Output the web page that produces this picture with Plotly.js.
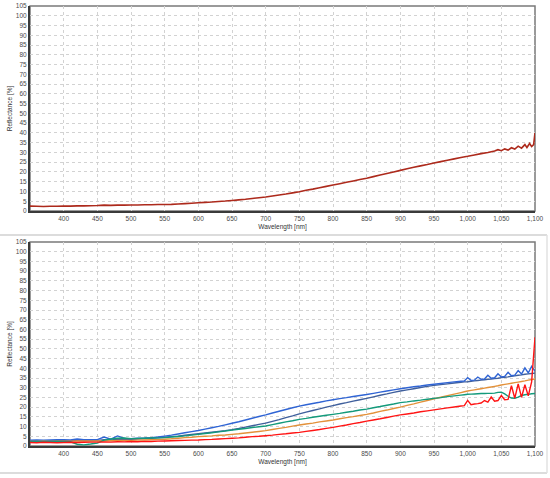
<!DOCTYPE html>
<html>
<head>
<meta charset="utf-8">
<script src="https://cdn.plot.ly/plotly-3.0.1.min.js"></script>
<style>html,body{margin:0;padding:0;background:#fff;}#chart{width:550px;height:478px;}</style>
</head>
<body>
<div id="chart"></div>
<script>
// ---------- DATA ----------
const wlTop = [350,360,370,380,390,400,410,420,430,440,450,460,470,480,490,500,510,520,530,540,550,560,570,580,590,600,610,620,630,640,650,660,670,680,690,700,710,720,730,740,750,760,770,780,790,800,810,820,830,840,850,860,870,880,890,900,910,920,930,940,950,960,970,980,990,1000,1010,1020,1030,1040,1045,1050,1055,1060,1065,1070,1075,1080,1085,1088,1092,1095,1098,1100];
const reflTop = [2.5,2.4,2.3,2.4,2.4,2.5,2.5,2.6,2.6,2.7,2.8,3.0,2.9,3.0,3.0,3.1,3.1,3.2,3.2,3.3,3.3,3.4,3.6,3.8,4.0,4.2,4.4,4.6,4.9,5.1,5.4,5.7,6.0,6.4,6.8,7.2,7.7,8.2,8.7,9.3,9.9,10.6,11.2,11.9,12.6,13.3,14.0,14.7,15.4,16.1,16.8,17.6,18.4,19.2,20.0,20.8,21.6,22.4,23.1,23.8,24.6,25.3,26.0,26.7,27.4,28.0,28.7,29.4,30.0,30.7,31.4,30.9,31.8,31.2,32.4,31.7,33.2,32.2,34.0,32.5,34.6,33.0,34.0,40.0];

const wlBottom = [350,360,370,380,390,400,410,420,430,440,450,460,470,480,490,500,510,520,530,540,550,560,570,580,590,600,610,620,630,640,650,660,670,680,690,700,710,720,730,740,750,760,770,780,790,800,810,820,830,840,850,860,870,880,890,900,910,920,930,940,950,960,970,980,990,995,1000,1005,1010,1015,1020,1025,1030,1035,1040,1045,1050,1055,1060,1065,1070,1075,1080,1085,1090,1095,1100];
const sampleBlue = [3.0,3.1,3.0,3.1,3.2, 3.2,3.1,3.6,3.2,3.3, 3.3,4.6,3.5,5.2,3.9, 3.8,4.0,4.1,4.3,4.6, 5.1,5.6,6.2,6.8,7.4, 8.0,8.7,9.4,10.1,10.9, 11.7,12.5,13.4,14.3,15.2, 16.0,17.0,17.9,18.8,19.7, 20.5,21.2,21.9,22.5,23.2, 23.8,24.4,24.9,25.5,26.0, 26.5,27.1,27.7,28.3,28.9, 29.5,30.0,30.5,30.9,31.4, 31.8,32.2,32.6,33.0,33.3, 33.4,35.2,33.8,33.9,35.5,34.3,34.5,36.4,34.9,35.1,37.2,35.5,35.8,37.9,36.2,36.5,38.8,37.0,40.2,37.6,41.0,38.5];
const sampleSlate = [2.6,2.6,2.5,2.6,2.7, 2.7,2.7,2.9,2.8,2.8, 2.9,3.2,3.0,3.6,3.4, 3.5,3.6,3.8,4.0,4.2, 4.5,4.8,5.1,5.5,5.9, 6.3,6.7,7.1,7.5,7.9, 8.4,9.0,9.7,10.4,11.1, 11.8,12.7,13.6,14.6,15.5, 16.5,17.4,18.3,19.1,20.0, 20.8,21.6,22.3,23.1,23.8, 24.5,25.3,26.1,26.8,27.6, 28.3,28.9,29.5,30.1,30.7, 31.2,31.6,32.0,32.4,32.8, 33.0,33.1,33.3,33.5,33.7,33.9,34.1,34.3,34.5,34.7,34.9,35.2,35.4,35.6,35.9,36.1,36.4,36.6,36.9,37.1,37.3,37.5];
const sampleGreen = [2.4,2.4,2.3,2.4,2.3, 2.3,2.2,0.9,0.6,1.0, 1.5,3.0,3.6,4.0,4.1, 3.8,3.9,4.0,4.1,4.2, 4.3,4.6,4.9,5.2,5.6, 6.0,6.4,6.8,7.3,7.7, 8.2,8.6,9.0,9.5,9.9, 10.3,11.0,11.7,12.4,13.0, 13.7,14.2,14.8,15.3,15.8, 16.3,16.8,17.4,17.9,18.5, 19.0,19.7,20.3,21.0,21.6, 22.3,22.7,23.2,23.6,24.1, 24.5,24.9,25.4,25.8,26.2, 26.4,26.6,26.7,26.8,26.9,27.0,27.0,27.1,27.1,27.2,27.6,27.7,26.8,25.6,24.7,24.6,25.2,26.0,26.4,26.6,26.9,27.0];
const sampleOrange = [2.4,2.4,2.5,2.4,2.5, 2.5,2.5,2.6,2.6,2.6, 2.6,2.7,2.7,2.8,2.8, 2.9,3.0,3.1,3.2,3.3, 3.5,3.7,4.0,4.3,4.5, 4.8,5.0,5.2,5.5,5.7, 6.0,6.3,6.7,7.1,7.5, 7.9,8.5,9.1,9.6,10.2, 10.8,11.3,11.8,12.4,12.9, 13.4,14.0,14.6,15.1,15.7, 16.3,17.0,17.8,18.5,19.3, 20.0,20.9,21.7,22.6,23.4, 24.3,25.1,25.9,26.7,27.5, 27.9,28.3,28.6,28.9,29.2,29.5,29.8,30.1,30.4,30.7,31.0,31.4,31.7,32.0,32.3,32.6,32.9,33.2,33.5,33.9,34.2,34.5];
const sampleRed = [1.8,1.7,1.9,1.8,1.7, 1.8,1.9,1.8,1.9,2.0, 2.0,2.1,2.0,2.2,2.1, 2.3,2.2,2.4,2.3,2.5, 2.6,2.7,2.8,2.9,3.0, 3.1,3.3,3.4,3.6,3.8, 4.0,4.2,4.5,4.8,5.0, 5.3,5.6,6.0,6.3,6.7, 7.0,7.5,8.0,8.5,9.1, 9.6,10.2,10.8,11.5,12.1, 12.8,13.4,14.0,14.7,15.4, 16.0,16.5,17.0,17.6,18.1, 18.6,19.1,19.6,20.1,20.6, 20.8,23.5,21.3,21.6,21.8,22.1,23.4,22.6,25.2,23.1,23.4,26.0,23.8,24.0,31.0,24.6,32.0,25.0,31.5,25.8,33.0,56.0];

const xTickVals = [400,450,500,550,600,650,700,750,800,850,900,950,1000,1050,1100];
const xTickText = ['400','450','500','550','600','650','700','750','800','850','900','950','1,000','1,050','1,100'];
const yTickVals = [0,5,10,15,20,25,30,35,40,45,50,55,60,65,70,75,80,85,90,95,100,105];
const xTitle = 'Wavelength [nm]';
const yTitle = 'Reflectance [%]';

// ---------- STYLE ----------
const W = 550, H = 478;
const fontFam = '"Liberation Sans", Arial, sans-serif';
const tickFont = {family: fontFam, size: 6.5, color: '#4a4a4a'};
const lw = 1.4;

const traces = [
  {x: wlTop, y: reflTop, xaxis: 'x', yaxis: 'y', mode: 'lines', line: {color: '#ad2a1c', width: 1.6, simplify: false}},
  {x: wlBottom, y: sampleSlate, xaxis: 'x2', yaxis: 'y2', mode: 'lines', line: {color: '#3f5f9c', width: lw, simplify: false}},
  {x: wlBottom, y: sampleBlue, xaxis: 'x2', yaxis: 'y2', mode: 'lines', line: {color: '#2f64d4', width: lw, simplify: false}},
  {x: wlBottom, y: sampleOrange, xaxis: 'x2', yaxis: 'y2', mode: 'lines', line: {color: '#e3913a', width: lw, simplify: false}},
  {x: wlBottom, y: sampleGreen, xaxis: 'x2', yaxis: 'y2', mode: 'lines', line: {color: '#139a7b', width: lw, simplify: false}},
  {x: wlBottom, y: sampleRed, xaxis: 'x2', yaxis: 'y2', mode: 'lines', line: {color: '#ff1414', width: lw, simplify: false}}
];

function xAx(anchor) {
  return {
    anchor: anchor, domain: [30/W, 535/W], range: [350, 1100],
    tickvals: xTickVals, ticktext: xTickText, tickfont: tickFont,
    showgrid: true, gridcolor: '#d2d2d2', griddash: 'dot', gridwidth: 1,
    showline: true, linecolor: '#3a3a3a', linewidth: 2, zeroline: false,
    ticks: '', automargin: false,
    title: {text: xTitle, font: {family: fontFam, size: 6.5, color: '#333'}, standoff: 4}
  };
}
function yAx(anchor, top, bottom) {
  return {
    anchor: anchor, domain: [(H-bottom)/H, (H-top)/H], range: [0, 105],
    tickvals: yTickVals, tickfont: tickFont,
    showgrid: true, gridcolor: '#d2d2d2', griddash: 'dot', gridwidth: 1,
    showline: true, linecolor: '#3a3a3a', linewidth: 2, zeroline: false,
    ticks: '', automargin: false,
    title: {text: yTitle, font: {family: fontFam, size: 6.5, color: '#333'}, standoff: 3}
  };
}

const frame = (xr, yr) => ({type: 'rect', xref: xr + ' domain', yref: yr + ' domain', x0: 0, x1: 1, y0: 0, y1: 1,
  line: {color: '#7a7a7a', width: 1.5}, layer: 'below'});

const layout = {
  width: W, height: H,
  margin: {l: 0, r: 0, t: 0, b: 0},
  paper_bgcolor: '#ffffff', plot_bgcolor: '#ffffff',
  showlegend: false,
  font: {family: fontFam},
  xaxis: xAx('y'),
  yaxis: yAx('x', 6, 211),
  xaxis2: xAx('y2'),
  yaxis2: yAx('x2', 242, 446),
  shapes: [
    frame('x', 'y'), frame('x2', 'y2'),
    {type: 'line', xref: 'paper', yref: 'paper', x0: 0, x1: 547/W, y0: (H-235)/H, y1: (H-235)/H, line: {color: '#dcdcdc', width: 2}},
    {type: 'line', xref: 'paper', yref: 'paper', x0: 0, x1: 547/W, y0: (H-473)/H, y1: (H-473)/H, line: {color: '#dcdcdc', width: 2}},
    {type: 'line', xref: 'paper', yref: 'paper', x0: 547/W, x1: 547/W, y0: (H-473)/H, y1: (H-235)/H, line: {color: '#e2e2e2', width: 1.5}}
  ]
};

Plotly.newPlot('chart', traces, layout, {displayModeBar: false, staticPlot: true});
</script>
</body>
</html>
